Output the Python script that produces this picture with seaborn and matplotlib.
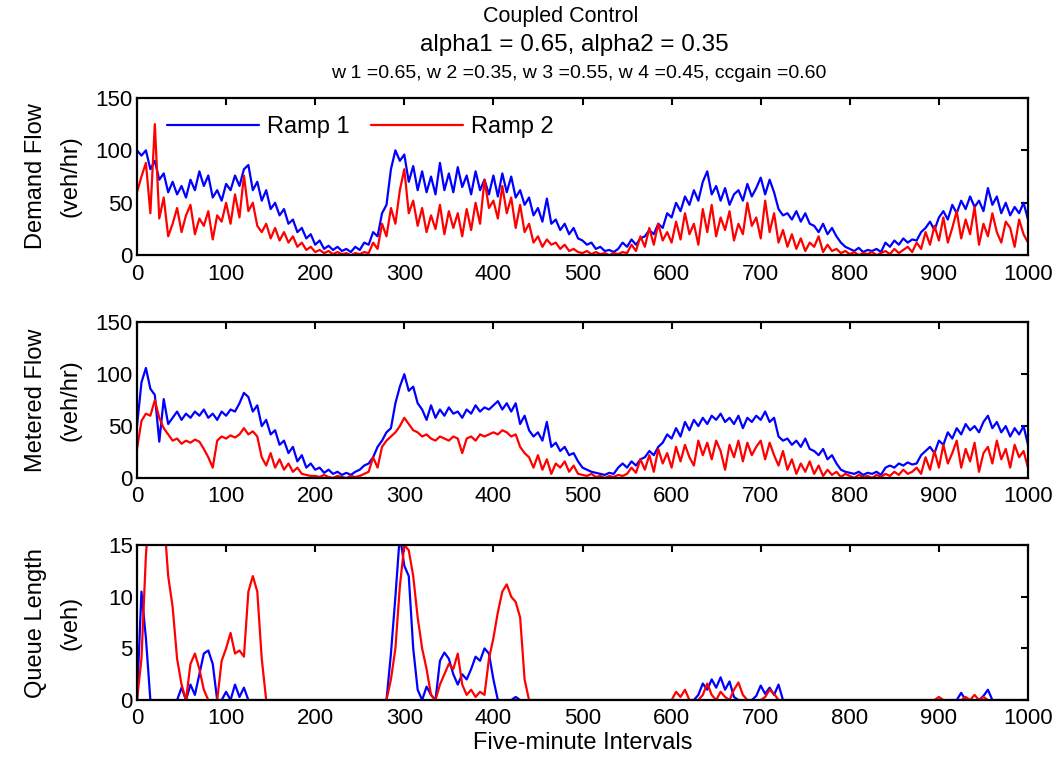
import pandas as pd
import seaborn as sns
import matplotlib.pyplot as plt

# five-minute intervals, sampled every 5 intervals
intervals = list(range(0, 1001, 5))

# Demand flow (veh/hr)
demand_ramp1 = [
    100, 95, 100, 82, 90, 72, 78, 60, 70, 58, 66, 55, 72, 62, 80, 66, 76, 55, 62, 52,
    68, 62, 76, 66, 82, 86, 62, 70, 52, 62, 44, 50, 38, 44, 30, 34, 22, 26, 16, 20,
    10, 14, 6, 9, 5, 8, 4, 6, 3, 8, 5, 12, 10, 22, 18, 40, 48, 82, 100, 90,
    96, 70, 85, 62, 80, 60, 75, 58, 88, 62, 78, 60, 84, 65, 76, 58, 80, 62, 72, 58,
    76, 56, 78, 60, 75, 55, 62, 48, 55, 38, 45, 32, 54, 30, 34, 24, 30, 20, 26, 16,
    14, 10, 12, 6, 8, 4, 5, 3, 6, 12, 8, 15, 10, 16, 18, 24, 20, 30, 26, 40,
    36, 50, 42, 56, 48, 62, 52, 70, 80, 58, 66, 52, 64, 48, 58, 62, 52, 68, 56, 64,
    74, 58, 72, 60, 44, 38, 40, 34, 42, 32, 40, 30, 28, 22, 30, 20, 26, 18, 12, 8,
    6, 4, 7, 3, 5, 4, 6, 3, 12, 8, 14, 10, 16, 12, 15, 14, 22, 26, 32, 24,
    36, 42, 34, 48, 40, 52, 44, 56, 46, 52, 42, 64, 48, 56, 40, 50, 38, 46, 40, 50,
    34,
]
demand_ramp2 = [
    60, 75, 88, 40, 125, 35, 55, 18, 30, 45, 22, 38, 48, 20, 35, 28, 42, 15, 38, 32,
    50, 30, 58, 36, 76, 42, 50, 28, 22, 30, 16, 26, 14, 22, 12, 18, 8, 12, 5, 8,
    3, 5, 2, 4, 1, 3, 1, 2, 0, 2, 1, 3, 2, 12, 6, 30, 18, 45, 30, 62,
    82, 40, 52, 28, 45, 22, 38, 25, 48, 20, 42, 26, 40, 18, 44, 24, 50, 30, 72, 45,
    52, 35, 66, 40, 55, 26, 48, 22, 30, 12, 18, 8, 15, 10, 12, 6, 10, 4, 6, 3,
    2, 4, 1, 3, 1, 2, 0, 2, 1, 3, 2, 10, 4, 18, 8, 26, 10, 30, 14, 22,
    12, 32, 15, 40, 20, 30, 10, 44, 22, 48, 18, 36, 24, 42, 14, 30, 20, 50, 28, 36,
    16, 52, 22, 40, 12, 24, 8, 20, 6, 16, 4, 12, 8, 18, 3, 10, 4, 6, 2, 4,
    1, 3, 0, 2, 1, 3, 0, 2, 4, 1, 6, 2, 5, 8, 3, 12, 6, 22, 10, 28,
    14, 36, 12, 26, 42, 16, 34, 20, 46, 10, 30, 18, 40, 22, 12, 32, 26, 8, 34, 20,
    12,
]

# Metered flow (veh/hr)
metered_ramp1 = [
    50, 92, 106, 86, 80, 35, 76, 52, 58, 64, 56, 62, 58, 64, 60, 66, 58, 62, 56, 64,
    60, 66, 64, 72, 82, 78, 64, 70, 50, 56, 42, 46, 32, 36, 24, 30, 16, 22, 10, 14,
    8, 10, 5, 8, 4, 6, 3, 5, 3, 6, 8, 12, 14, 20, 30, 36, 44, 48, 72, 88,
    100, 84, 88, 72, 66, 56, 70, 58, 66, 60, 68, 62, 64, 58, 66, 62, 70, 64, 68, 66,
    70, 74, 66, 72, 64, 72, 52, 60, 46, 40, 44, 36, 54, 30, 34, 26, 30, 22, 24, 16,
    10, 8, 6, 5, 4, 3, 5, 4, 10, 14, 10, 16, 12, 18, 20, 26, 22, 30, 34, 42,
    38, 48, 40, 54, 46, 56, 50, 58, 52, 60, 56, 62, 54, 58, 52, 60, 48, 58, 54, 60,
    56, 64, 54, 58, 40, 36, 38, 32, 36, 30, 38, 28, 26, 22, 28, 18, 22, 14, 8, 6,
    5, 4, 6, 3, 5, 4, 6, 3, 10, 12, 10, 14, 12, 15, 13, 14, 22, 26, 30, 24,
    36, 32, 44, 38, 48, 42, 52, 46, 50, 44, 54, 60, 48, 54, 44, 50, 40, 48, 42, 50,
    32,
]
metered_ramp2 = [
    28, 55, 62, 60, 75, 58, 48, 42, 36, 38, 33, 36, 34, 37, 35, 28, 20, 10, 36, 40,
    38, 41, 39, 42, 48, 42, 45, 40, 20, 12, 24, 10, 18, 8, 14, 6, 10, 4, 3, 2,
    2, 1, 3, 1, 0, 2, 1, 0, 2, 1, 2, 4, 6, 20, 10, 30, 36, 40, 44, 50,
    58, 52, 46, 44, 40, 42, 38, 36, 40, 38, 36, 40, 38, 24, 38, 40, 36, 42, 40, 42,
    44, 42, 46, 44, 40, 42, 30, 24, 20, 10, 22, 8, 18, 4, 14, 10, 16, 6, 12, 4,
    3, 2, 4, 1, 2, 0, 2, 1, 3, 2, 4, 10, 5, 18, 8, 22, 6, 28, 14, 24,
    10, 30, 16, 32, 20, 12, 36, 22, 34, 18, 36, 26, 8, 32, 20, 36, 16, 34, 22, 30,
    36, 18, 34, 22, 12, 26, 8, 18, 4, 14, 6, 16, 4, 12, 2, 8, 3, 6, 1, 4,
    2, 0, 3, 1, 2, 0, 3, 1, 4, 2, 6, 3, 8, 4, 6, 10, 4, 20, 8, 26,
    10, 32, 14, 24, 36, 10, 28, 16, 34, 6, 24, 30, 14, 36, 18, 28, 10, 32, 20, 26,
    10,
]

# Queue length (veh)
queue_ramp1 = [
    0, 10.5, 6, 0, 0, 0, 0, 0, 0, 0, 1.2, 0, 1.5, 0.5, 2.5, 4.5, 4.8, 3.5, 0, 0,
    0.8, 0, 1.5, 0.3, 1.2, 0, 0, 0, 0, 0, 0, 0, 0, 0, 0, 0, 0, 0, 0, 0,
    0, 0, 0, 0, 0, 0, 0, 0, 0, 0, 0, 0, 0, 0, 0, 0, 0, 4.5, 10, 16,
    13, 12, 5, 1, 0, 1.3, 0.5, 0, 3.8, 4.6, 4, 2.5, 1.5, 2.5, 2, 3, 4.2, 3.8, 5, 4.5,
    2, 0, 0, 0, 0, 0.3, 0, 0, 0, 0, 0, 0, 0, 0, 0, 0, 0, 0, 0, 0,
    0, 0, 0, 0, 0, 0, 0, 0, 0, 0, 0, 0, 0, 0, 0, 0, 0, 0, 0, 0,
    0, 0, 0, 0, 0, 0, 0.5, 1.6, 1, 2, 1.2, 2.2, 1, 1.8, 0.3, 0, 0, 0, 0, 0.4,
    1.4, 0.6, 1.2, 0.5, 1.5, 0, 0, 0, 0, 0, 0, 0, 0, 0, 0, 0, 0, 0, 0, 0,
    0, 0, 0, 0, 0, 0, 0, 0, 0, 0, 0, 0, 0, 0, 0, 0, 0, 0, 0, 0,
    0, 0, 0, 0, 0, 0.7, 0, 0, 0, 0, 0.4, 1.0, 0, 0, 0, 0, 0, 0, 0, 0,
    0,
]
queue_ramp2 = [
    0, 4, 14, 20, 22, 22, 18, 12, 9, 4, 1.5, 0, 3.5, 4.5, 3, 1, 0, 0, 0, 3.8,
    5, 6.5, 4.5, 4.8, 4.2, 10.5, 12, 10.5, 4, 0, 0, 0, 0, 0, 0, 0, 0, 0, 0, 0,
    0, 0, 0, 0, 0, 0, 0, 0, 0, 0, 0, 0, 0, 0, 0, 0, 0, 2, 5, 11,
    15, 14.5, 12, 8, 5, 3, 0.5, 0, 1.5, 2.5, 3.5, 3, 4.5, 1.5, 0.5, 1, 0.3, 0.8, 0.5, 4,
    6, 8.5, 10.5, 11.2, 10, 9.5, 8, 2, 0, 0, 0, 0, 0, 0, 0, 0, 0, 0, 0, 0,
    0, 0, 0, 0, 0, 0, 0, 0, 0, 0, 0, 0, 0, 0, 0, 0, 0, 0, 0, 0,
    0, 0.8, 0.3, 1, 0, 0, 0, 0.5, 1.6, 0.5, 0, 0.8, 0.3, 0, 1, 1.7, 0.5, 0, 0, 0,
    0, 0.3, 1, 0.6, 0, 0, 0, 0, 0, 0, 0, 0, 0, 0, 0, 0, 0, 0, 0, 0,
    0, 0, 0, 0, 0, 0, 0, 0, 0, 0, 0, 0, 0, 0, 0, 0, 0, 0, 0, 0,
    0.3, 0, 0, 0, 0, 0, 0.3, 0, 0.5, 0, 0.3, 0, 0, 0, 0, 0, 0, 0, 0, 0,
    0,
]

sns.set_style("white")
plt.rcParams["font.family"] = ["Liberation Sans", "DejaVu Sans"]
plt.rcParams["text.color"] = "black"
plt.rcParams["axes.labelcolor"] = "black"

colors = {"Ramp 1": "#0000ff", "Ramp 2": "#ff0000"}


def panel(ax, r1, r2, ylabel, ymax, yticks):
    df = pd.DataFrame({"Interval": intervals, "Ramp 1": r1, "Ramp 2": r2})
    df = df.melt(id_vars="Interval", var_name="Ramp", value_name="Value")
    sns.lineplot(data=df, x="Interval", y="Value", hue="Ramp", palette=colors,
                 estimator=None, linewidth=1.6, legend=False, ax=ax)
    ax.set_xlim(0, 1000)
    ax.set_ylim(0, ymax)
    ax.set_xticks(range(0, 1001, 100))
    ax.set_yticks(yticks)
    ax.set_xlabel("")
    ax.set_ylabel(ylabel, fontsize=17, linespacing=1.75)
    ax.yaxis.set_label_coords(-0.062, 0.5)
    ax.tick_params(direction="in", top=True, right=True, length=5, width=1.5,
                   labelsize=16, colors="black")
    ax.tick_params(axis="x", pad=6)
    ax.tick_params(axis="y", pad=3)
    for s in ax.spines.values():
        s.set_linewidth(1.6)
        s.set_color("black")


fig = plt.figure(figsize=(10.62, 7.71), dpi=100)
ax1 = fig.add_axes([0.129, 0.669, 0.839, 0.204])
ax2 = fig.add_axes([0.129, 0.380, 0.839, 0.202])
ax3 = fig.add_axes([0.129, 0.092, 0.839, 0.201])

panel(ax1, demand_ramp1, demand_ramp2, "Demand Flow\n(veh/hr)", 150, [0, 50, 100, 150])
panel(ax2, metered_ramp1, metered_ramp2, "Metered Flow\n(veh/hr)", 150, [0, 50, 100, 150])
panel(ax3, queue_ramp1, queue_ramp2, "Queue Length\n(veh)", 15, [0, 5, 10, 15])

ax1.legend(ax1.lines[:2], ["Ramp 1", "Ramp 2"], ncol=2, frameon=False,
           loc="center left", bbox_to_anchor=(0.02, 0.815), borderpad=0,
           handlelength=3.9, handletextpad=0.35, columnspacing=0.9, fontsize=17)

ax3.set_xlabel("Five-minute Intervals", fontsize=17, labelpad=2)

fig.text(0.528, 0.978, "Coupled Control", ha="center", va="center", fontsize=15.5)
fig.text(0.541, 0.942, "alpha1 = 0.65, alpha2 = 0.35", ha="center", va="center", fontsize=17.5)
fig.text(0.545, 0.905, "w 1 =0.65, w 2 =0.35, w 3 =0.55, w 4 =0.45, ccgain =0.60",
         ha="center", va="center", fontsize=14)

fig.savefig("out.png", dpi=100)
